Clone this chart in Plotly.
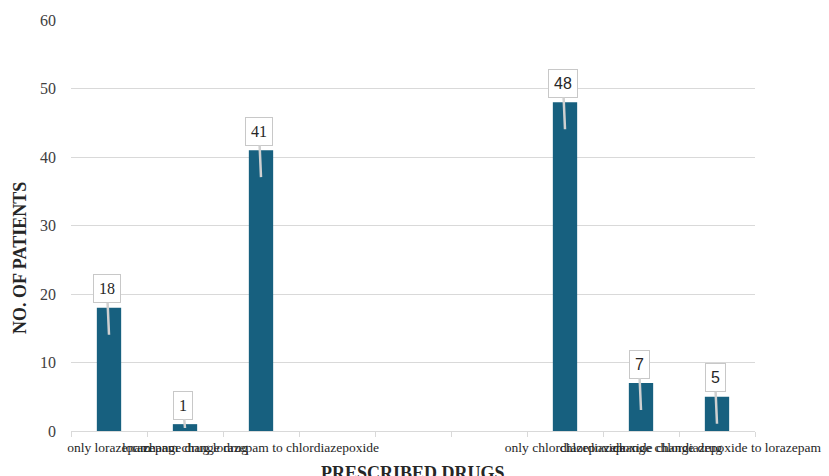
import plotly.graph_objects as go

# Prescribed drug groups (blank slots keep the gap between the two groups)
categories = [
    "only lorazepam",
    "lorazepam change drug",
    "change drug lorazepam to chlordiazepoxide",
    " ",
    "  ",
    "   ",
    "only chlordiazepoxide",
    "chlordiazepoxide change drug",
    "change chlordiazepoxide to lorazepam",
]
patients = [18, 1, 41, None, None, None, 48, 7, 5]
label_fonts = ["Liberation Serif", "Liberation Serif", "Liberation Serif", None, None, None,
               "Liberation Sans", "Liberation Sans", "Liberation Sans"]

y_ticks = [0, 10, 20, 30, 40, 50, 60]

bar_color = "#17607f"
grid_color = "#d9d9d9"

L, R, T, B = 71, 74, 20, 45
W, H = 829, 476
pw, ph = W - L - R, H - T - B
px_per_unit = ph / 60.0

fig = go.Figure()
fig.add_trace(go.Bar(
    x=categories,
    y=patients,
    marker=dict(color=bar_color, line=dict(width=0)),
    width=0.32,
    hoverinfo="x+y",
))

# Callout labels with a tail pointing into each bar
for cat, val, fnt in zip(categories, patients, label_fonts):
    if val is None:
        continue
    dip = min(27.0, val * px_per_unit - 3)
    fig.add_annotation(
        x=cat, y=val, xref="x", yref="y",
        text=str(val),
        showarrow=True, arrowhead=0, arrowwidth=2.5, arrowcolor="#d0d0d0",
        ax=-2, ay=-(dip + 19), yshift=-dip, standoff=0,
        bgcolor="white", bordercolor="#c8c8c8", borderwidth=1, borderpad=5,
        font=dict(family=fnt, size=16, color="#262626"),
    )

# Axis titles, placed in pixels then converted to paper coordinates
titles = [
    dict(px=20, py=258, text="<b>NO. OF PATIENTS</b>", angle=-90),
    dict(px=413, py=473, text="<b>PRESCRIBED DRUGS</b>", angle=0),
]
for t in titles:
    fig.add_annotation(
        x=(t["px"] - L) / pw, y=(H - B - t["py"]) / ph,
        xref="paper", yref="paper", xanchor="center", yanchor="middle",
        text=t["text"],
        showarrow=False, textangle=t["angle"],
        font=dict(family="Liberation Serif", size=18, color="#262626"),
    )

fig.update_layout(
    width=W, height=H,
    margin=dict(l=L, r=R, t=T, b=B, pad=0, autoexpand=False),
    plot_bgcolor="white", paper_bgcolor="white",
    showlegend=False,
    font=dict(family="Liberation Serif", color="#262626"),
)
fig.update_xaxes(
    type="category",
    automargin=False,
    tickangle=0,
    tickson="boundaries",
    ticks="outside", ticklen=5, tickcolor=grid_color,
    showline=True, linecolor=grid_color, linewidth=1,
    showgrid=False,
    ticklabelstandoff=4,
    tickfont=dict(family="Liberation Serif", size=13.5, color="#262626"),
)
fig.update_yaxes(
    range=[0, 60],
    automargin=False,
    tickvals=y_ticks,
    showgrid=True, gridcolor=grid_color, gridwidth=1,
    zeroline=False, showline=False,
    ticklabelstandoff=14,
    tickfont=dict(family="Liberation Serif", size=16, color="#404040"),
)

fig.write_html("out.html")
